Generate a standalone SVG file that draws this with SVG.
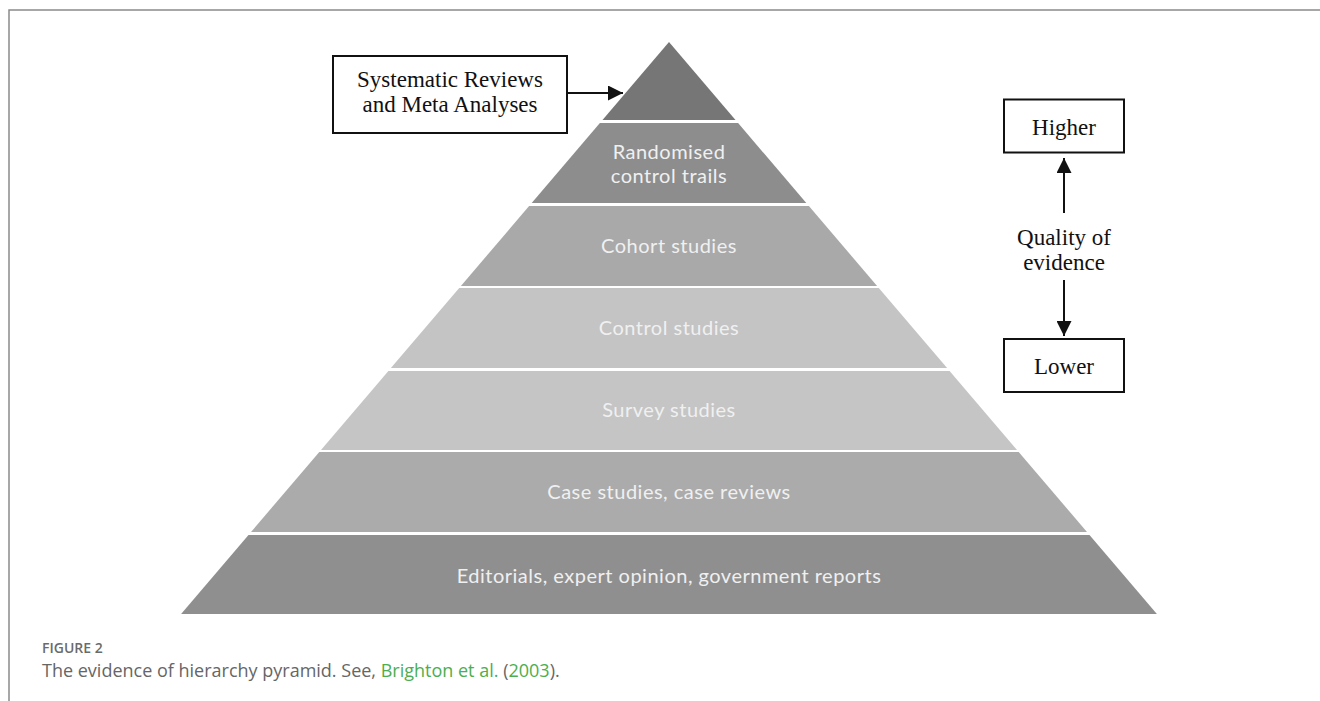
<svg xmlns="http://www.w3.org/2000/svg" width="1320" height="701" viewBox="0 0 1320 701">
  <style>
    .band-label { font-family: Lato, "Open Sans", sans-serif; font-size: 20px; letter-spacing: 0.5px; fill: #f0f0f0; text-anchor: middle; }
    .serif { font-family: "Liberation Serif", "Times New Roman", serif; font-size: 23px; fill: #111; text-anchor: middle; }
    .box { fill: #fff; stroke: #111; stroke-width: 2; }
    .conn { stroke: #111; stroke-width: 2; fill: none; }
    .frame { stroke: #8a8a8a; stroke-width: 1.5; fill: none; }
    .fig-no { font-family: "Open Sans", "Liberation Sans", sans-serif; font-size: 14px; font-weight: 600; fill: #6b6b6b; }
    .caption { font-family: "Open Sans", "Liberation Sans", sans-serif; font-size: 18px; fill: #666; }
    .cite { fill: #4cae4f; }
  </style>
  <defs>
    <marker id="arrowhead" viewBox="0 0 10 10" refX="10" refY="5" markerWidth="7.5" markerHeight="7.5" orient="auto-start-reverse" markerUnits="strokeWidth">
      <path d="M0,0 L10,5 L0,10 Z" fill="#111"/>
    </marker>
  </defs>

  <rect width="1320" height="701" fill="#fff"/>
  <!-- page frame -->
  <path class="frame" d="M9,701 V10 H1320"/>

  <!-- pyramid levels, top to bottom -->
  <g id="level-systematic-reviews">
    <polygon points="669,42 735.5,120 602.5,120" fill="#767676"/>
  </g>
  <g id="level-rct">
    <polygon points="599.9,123 738.1,123 806.3,203 531.7,203" fill="#8d8d8d"/>
    <text class="band-label" x="669" y="159">Randomised</text>
    <text class="band-label" x="669" y="183">control trails</text>
  </g>
  <g id="level-cohort">
    <polygon points="529.1,206 808.9,206 877.1,286 460.9,286" fill="#a9a9a9"/>
    <text class="band-label" x="669" y="252.5">Cohort studies</text>
  </g>
  <g id="level-control">
    <polygon points="459.2,288 878.8,288 947.1,368 390.9,368" fill="#c4c4c4"/>
    <text class="band-label" x="669" y="334.5">Control studies</text>
  </g>
  <g id="level-survey">
    <polygon points="388.4,371 949.6,371 1017,450 321,450" fill="#c5c5c5"/>
    <text class="band-label" x="669" y="417">Survey studies</text>
  </g>
  <g id="level-case">
    <polygon points="319.3,452 1018.7,452 1087,532 251,532" fill="#ababab"/>
    <text class="band-label" x="669" y="498.5">Case studies, case reviews</text>
  </g>
  <g id="level-editorials">
    <polygon points="248.5,535 1089.5,535 1156.9,614 181.1,614" fill="#8f8f8f"/>
    <text class="band-label" x="669" y="582.5">Editorials, expert opinion, government reports</text>
  </g>

  <!-- callout box for the apex -->
  <g id="systematic-box">
    <rect class="box" x="333" y="56" width="234" height="77"/>
    <text class="serif" x="450" y="87">Systematic Reviews</text>
    <text class="serif" x="450" y="111.5">and Meta Analyses</text>
  </g>

  <!-- quality scale -->
  <g id="higher-box">
    <rect class="box" x="1004" y="99.5" width="120" height="53"/>
    <text class="serif" x="1064" y="135">Higher</text>
  </g>
  <g id="quality-label">
    <text class="serif" x="1064" y="245">Quality of</text>
    <text class="serif" x="1064" y="270">evidence</text>
  </g>
  <g id="lower-box">
    <rect class="box" x="1004" y="339" width="120" height="53"/>
    <text class="serif" x="1064" y="373.5">Lower</text>
  </g>

  <g id="connectors">
    <line class="conn" x1="567" y1="93" x2="623" y2="93" marker-end="url(#arrowhead)"/>
    <line class="conn" x1="1064" y1="213" x2="1064" y2="158" marker-end="url(#arrowhead)"/>
    <line class="conn" x1="1064" y1="280" x2="1064" y2="336" marker-end="url(#arrowhead)"/>
  </g>

  <!-- caption -->
  <text class="fig-no" x="42" y="653">FIGURE 2</text>
  <text class="caption" x="42" y="677">The evidence of hierarchy pyramid. See, <tspan class="cite">Brighton et al.</tspan> (<tspan class="cite">2003</tspan>).</text>
</svg>
